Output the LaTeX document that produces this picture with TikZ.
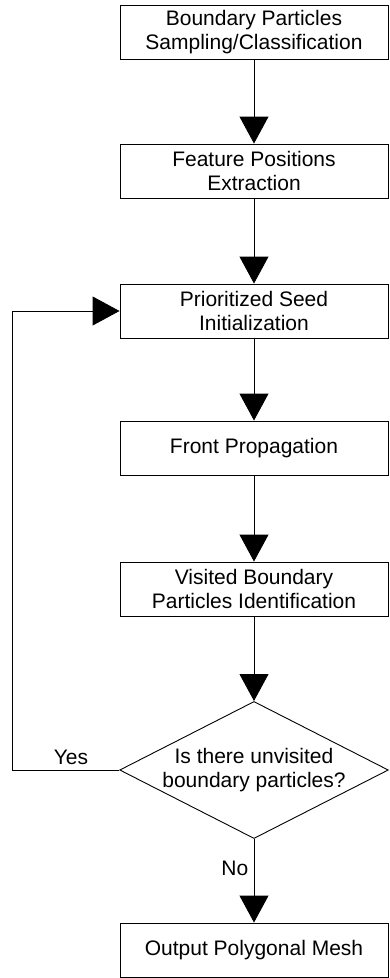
\documentclass[tikz,border=0pt]{standalone}
\usepackage{fontspec}
\setmainfont{Liberation Sans}
\usetikzlibrary{arrows.meta,shapes.geometric}

\tikzset{
  stepbox/.style={draw,line width=0.9pt,minimum width=268pt,minimum height=54pt,
    align=center,font=\fontsize{21}{24}\selectfont,inner sep=0pt},
  decision/.style={draw,diamond,line width=0.9pt,minimum width=268pt,minimum height=137pt,
    aspect=1.96,align=center,font=\fontsize{21}{24}\selectfont,inner sep=0pt},
  flow/.style={line width=0.9pt,-{Triangle[width=29pt,length=27pt]}}
}

\begin{document}
\begin{tikzpicture}[x=1pt,y=-1pt]
    \useasboundingbox (0,0) rectangle (389,978);
    % boxes down the middle
    \node[stepbox] (sample) at (254,32) {Boundary Particles\\Sampling/Classification};
    \node[stepbox] (feature) at (254,171) {Feature Positions\\Extraction};
    \node[stepbox] (seed) at (254,311) {Prioritized Seed\\Initialization};
    \node[stepbox] (front) at (254,448) {Front Propagation};
    \node[stepbox] (visited) at (254,589) {Visited Boundary\\Particles Identification};
    \node[decision] (check) at (254,770) {Is there unvisited\\boundary particles?};
    \node[stepbox] (mesh) at (254,950) {Output Polygonal Mesh};
    % arrows
    \draw[flow] (sample) -- (feature);
    \draw[flow] (feature) -- (seed);
    \draw[flow] (seed) -- (front);
    \draw[flow] (front) -- (visited);
    \draw[flow] (visited) -- (check);
    \draw[flow] (check) -- node[pos=0.35,left=2pt,font=\fontsize{21}{24}\selectfont] (no) {No} (mesh);
    % loop back
    \coordinate (loopdown) at (12,770);
    \coordinate (loopup) at (12,311);
    \draw[flow] (check.west) -- (loopdown) -- (loopup) -- (seed.west);
    \node[font=\fontsize{21}{24}\selectfont] (yes) at (71,757) {Yes};
\end{tikzpicture}
\end{document}
